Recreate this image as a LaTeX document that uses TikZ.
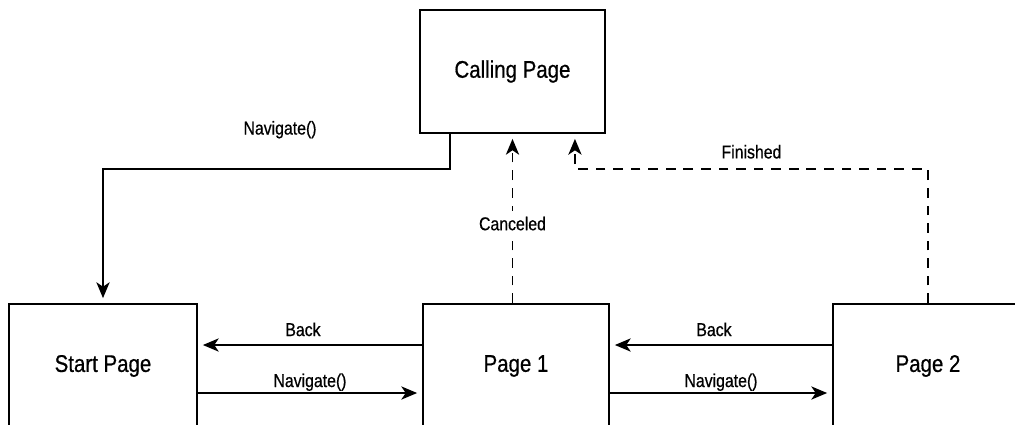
\documentclass[tikz,border=0pt]{standalone}
\usepackage{fontspec}
\setmainfont[FakeStretch=0.85, FakeBold=0.6]{Liberation Sans}
\usetikzlibrary{arrows.meta,calc}

\begin{document}
\begin{tikzpicture}[x=0.02cm, y=-0.02cm, >={Stealth[length=9pt,width=7.5pt,inset=2.5pt]},
    page/.style={draw, line width=1.1pt, minimum width=3.72cm, minimum height=2.48cm,
        font=\fontsize{13.7}{16}\selectfont},
    flow/.style={line width=1.1pt, ->, shorten >=2.8pt},
    ret/.style={flow, dash pattern=on 5.5pt off 4.5pt},
    lbl/.style={font=\fontsize{10.6}{12}\selectfont, anchor=base}]

    % Frame (bottom boxes run off the page)
    \useasboundingbox (0,0) rectangle (1015,424);
    \clip (0,0) rectangle (1015,424);

    % Pages
    \node[page, minimum height=2.46cm, minimum width=3.7cm] (calling) at (512.5,71.5) {Calling Page};
    \node[page, minimum width=3.76cm] (start) at (103,366) {Start Page};
    \node[page] (page1) at (516,366) {Page 1};
    \node[page, minimum width=3.8cm] (page2) at (928,366) {Page 2};

    % Bends of the upper connectors
    \coordinate (nav) at ($(calling.south west)+(31,35)$);
    \coordinate (fin) at ($(calling.south east)+(-31,35)$);

    % --- Calling page starts the flow ---
    \draw[flow] (nav |- calling.south) -- (nav)
        -- node[lbl, yshift=19.6pt, xshift=2pt] {Navigate()} (nav -| start.north) -- (start.north);

    % --- Forward navigation ---
    \draw[flow] ($(start.east)+(0,27)$) -- node[lbl, yshift=3.4pt] {Navigate()} ($(page1.west)+(0,27)$);
    \draw[flow] ($(page1.east)+(0,27)$) -- node[lbl, yshift=3.4pt] {Navigate()} ($(page2.west)+(0,27)$);

    % --- Back navigation ---
    \draw[flow] ($(page1.west)+(0,-21)$) -- node[lbl, yshift=5.1pt, xshift=-4pt] {Back} ($(start.east)+(0,-21)$);
    \draw[flow] ($(page2.west)+(0,-21)$) -- node[lbl, yshift=5.1pt, xshift=-4pt] {Back} ($(page1.east)+(0,-21)$);

    % --- Returns to the calling page (dashed) ---
    \draw[ret] (page1.north -| calling.south)
        -- node[lbl, anchor=center, fill=white, pos=0.47] {Canceled} (calling.south);
    \draw[ret] (page2.north) |- node[lbl, pos=0.75, yshift=6pt] {Finished} (fin)
        -- (fin |- calling.south);

\end{tikzpicture}
\end{document}
